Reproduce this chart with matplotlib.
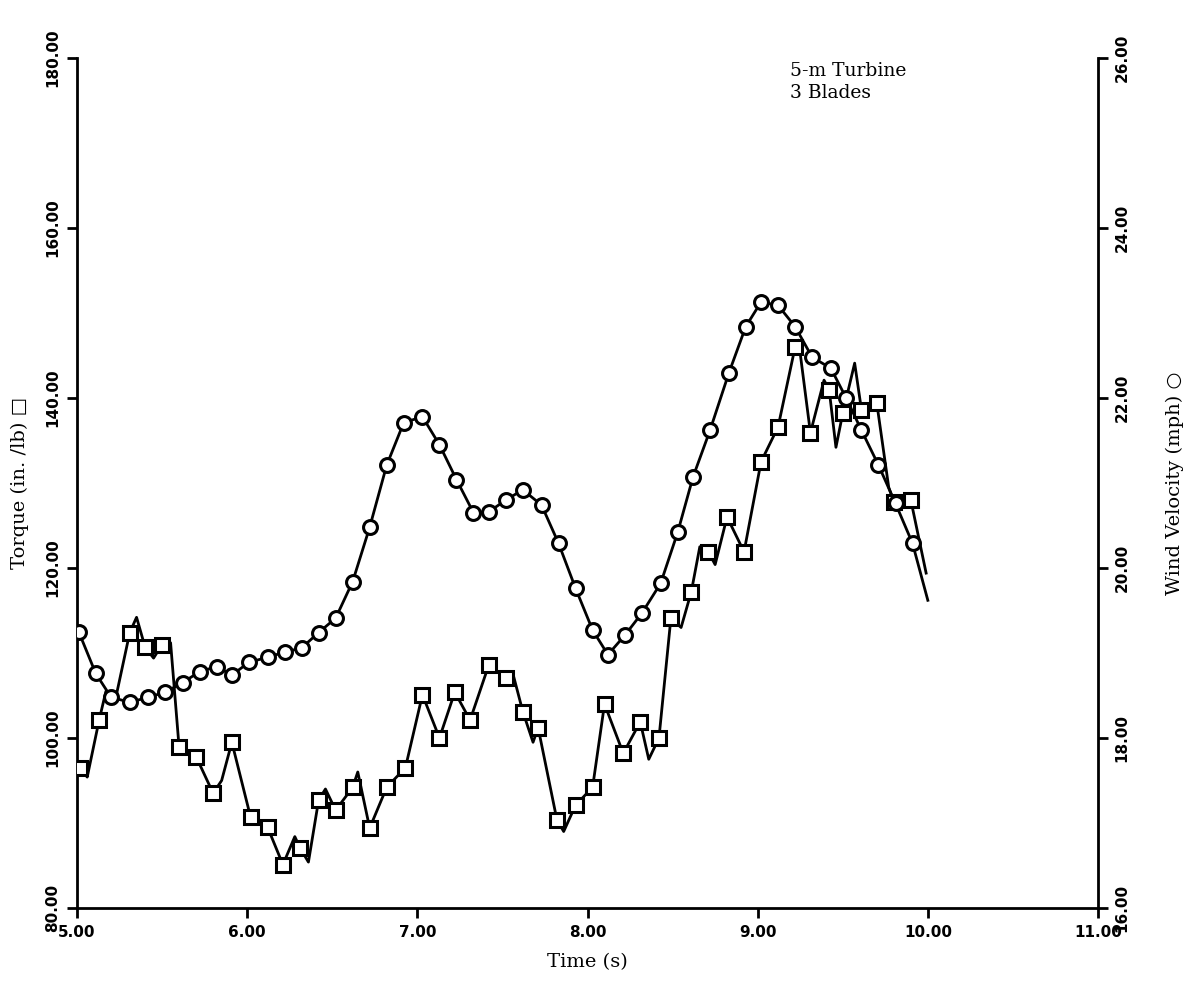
import numpy as np
import matplotlib
matplotlib.use("Agg")
from matplotlib import pyplot as plt

# wind velocity (mph), circle markers at every sample except the tail end
wind_t = [5.01, 5.11, 5.20, 5.31, 5.42, 5.52, 5.62, 5.72, 5.82, 5.91,
          6.01, 6.12, 6.22, 6.32, 6.42, 6.52, 6.62, 6.72, 6.82, 6.92,
          7.03, 7.13, 7.23, 7.33, 7.42, 7.52, 7.62, 7.73, 7.83, 7.93,
          8.03, 8.12, 8.22, 8.32, 8.43, 8.53, 8.62, 8.72, 8.83, 8.93,
          9.02, 9.12, 9.22, 9.32, 9.43, 9.52, 9.61, 9.71, 9.81, 9.91, 10.0]
wind_v = [19.25, 18.76, 18.48, 18.42, 18.48, 18.54, 18.65, 18.78, 18.84, 18.74,
          18.89, 18.95, 19.01, 19.06, 19.24, 19.41, 19.84, 20.48, 21.21, 21.71,
          21.78, 21.45, 21.04, 20.65, 20.66, 20.80, 20.92, 20.74, 20.29, 19.76,
          19.27, 18.98, 19.21, 19.47, 19.82, 20.42, 21.07, 21.62, 22.29, 22.84,
          23.13, 23.09, 22.84, 22.48, 22.35, 22.00, 21.62, 21.21, 20.76, 20.29, 19.62]
wind_marks = list(range(len(wind_t) - 1))

# torque (in./lb); square markers only at the sampled points
torque_t = [5.02, 5.06, 5.13, 5.17, 5.22, 5.31, 5.35, 5.40, 5.45, 5.50,
            5.55, 5.60, 5.70, 5.80, 5.85, 5.91, 6.02, 6.12, 6.21, 6.28,
            6.31, 6.36, 6.42, 6.46, 6.52, 6.62, 6.65, 6.72, 6.82, 6.93,
            7.03, 7.13, 7.22, 7.31, 7.42, 7.52, 7.56, 7.62, 7.68, 7.71,
            7.82, 7.86, 7.93, 8.03, 8.10, 8.21, 8.31, 8.36, 8.42, 8.49,
            8.55, 8.61, 8.66, 8.71, 8.75, 8.82, 8.92, 9.02, 9.12, 9.22,
            9.24, 9.31, 9.39, 9.42, 9.46, 9.50, 9.57, 9.61, 9.70, 9.77,
            9.80, 9.90, 9.99]
torque_v = [96.5, 95.4, 102.1, 105.5, 104.0, 112.4, 114.2, 110.7, 109.4, 111.0,
            111.2, 98.9, 97.8, 93.5, 95.0, 99.5, 90.7, 89.5, 85.1, 88.4,
            87.1, 85.4, 92.7, 94.0, 91.5, 94.2, 96.0, 89.4, 94.2, 96.5,
            105.1, 100.0, 105.4, 102.1, 108.6, 107.1, 107.7, 103.1, 99.5, 101.2,
            90.4, 89.0, 92.1, 94.2, 104.0, 98.2, 101.9, 97.5, 100.0, 114.1,
            113.0, 117.2, 122.5, 121.9, 120.4, 126.0, 121.9, 132.5, 136.6, 146.0,
            146.8, 135.9, 142.1, 141.0, 134.2, 138.2, 144.1, 138.6, 139.4, 129.5,
            127.8, 128.0, 119.4]
no_mark = {1, 3, 4, 6, 8, 10, 14, 19, 21, 23, 26, 36, 38, 41, 47, 50, 52, 54,
           60, 62, 64, 66, 69, 72}
torque_marks = [i for i in range(len(torque_t)) if i not in no_mark]

x_ticks = [5, 6, 7, 8, 9, 10, 11]
torque_ticks = [80, 100, 120, 140, 160, 180]
wind_ticks = [16, 18, 20, 22, 24, 26]

serif = ["DejaVu Serif", "DejaVu Sans"]

fig = plt.figure(figsize=(11.87, 9.84), dpi=100)
ax = fig.add_axes([77 / 1187, 76 / 984, 1021 / 1187, 850 / 984])
ax2 = ax.twinx()

ax.plot(torque_t, torque_v, color="black", lw=2, marker="s", ms=10,
        mfc="white", mec="black", mew=2.2, markevery=torque_marks, zorder=3)
ax2.plot(wind_t, wind_v, color="black", lw=2, marker="o", ms=10,
         mfc="white", mec="black", mew=2.2, markevery=wind_marks, zorder=3)

ax.set_xlim(5, 11)
ax.set_ylim(80, 180)
ax2.set_ylim(16, 26)

ax.set_xticks(x_ticks)
ax.set_xticklabels(["%.2f" % v for v in x_ticks], fontweight="bold", fontsize=11)
ax.set_yticks(torque_ticks)
ax.set_yticklabels(["%.2f" % v for v in torque_ticks], fontweight="bold",
                   fontsize=11, rotation=90, va="center")
ax2.set_yticks(wind_ticks)
ax2.set_yticklabels(["%.2f" % v for v in wind_ticks], fontweight="bold",
                    fontsize=11, rotation=90, va="center")

for a in (ax, ax2):
    a.spines["top"].set_visible(False)
    for s in ("left", "right", "bottom"):
        a.spines[s].set_linewidth(2)
    a.tick_params(direction="out", length=7, width=2, pad=5)
ax.spines["right"].set_visible(False)
ax2.spines["left"].set_visible(False)
ax2.spines["bottom"].set_visible(False)

ax.set_xlabel("Time (s)", family=serif, fontsize=14, labelpad=10)
ax.set_ylabel("Torque (in. /lb) \u25a1", family=serif, fontsize=14, labelpad=12)
ax2.set_ylabel("Wind Velocity (mph) \u25cb", family=serif, fontsize=14,
               rotation=90, labelpad=26)

fig.text(790 / 1187, 1 - 82 / 984, "5-m Turbine\n3 Blades", family=serif,
         fontsize=13.5, va="center", ha="left", linespacing=1.3)

fig.savefig("out.png", dpi=100)
